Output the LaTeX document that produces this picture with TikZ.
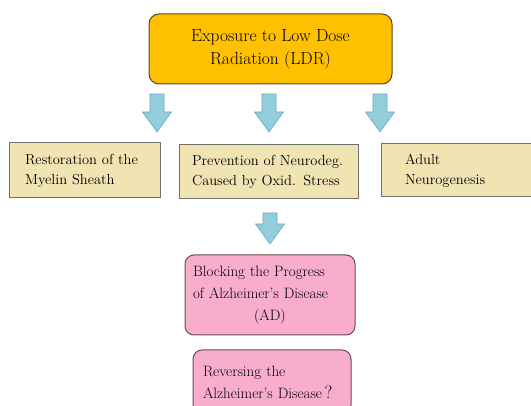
\documentclass[tikz,border=0pt]{standalone}
\usepackage{tikz}
\definecolor{ldrgold}{HTML}{FFC000}
\definecolor{ldrline}{HTML}{5A4420}
\definecolor{wheatfill}{HTML}{F1E4B3}
\definecolor{wheatline}{HTML}{707070}
\definecolor{pinkfill}{HTML}{F8AECB}
\definecolor{pinkline}{HTML}{6A4A55}
\definecolor{arrowblue}{HTML}{92CDDC}
\definecolor{arrowline}{HTML}{6FA8BE}
\tikzset{
  topbox/.style={
    rounded corners=10pt,draw=ldrline,fill=ldrgold,
    line width=1pt,minimum width=243pt,minimum height=70pt,
    align=center,font=\fontsize{17.5}{23}\selectfont
  },
  effectbox/.style={
    draw=wheatline,fill=wheatfill,line width=1pt,
    minimum height=54pt,inner ysep=0pt,align=left,
    font=\fontsize{14.5}{20}\selectfont
  },
  outcomebox/.style={
    rounded corners=9pt,draw=pinkline,fill=pinkfill,
    line width=1pt,align=left,inner ysep=0pt,
    font=\fontsize{15}{22}\selectfont
  },
  arrowshape/.style={draw=arrowline,fill=arrowblue,line width=.6pt,line join=miter},
  pics/blockdown/.style={code={
    \path[arrowshape] (-7,0) -- (7,0) -- (7,#1-20) -- (14.5,#1-20)
      -- (0,#1) -- (-14.5,#1-20) -- (-7,#1-20) -- cycle;
  }}
}
\begin{document}
\begin{tikzpicture}[x=1pt,y=-1pt]
\useasboundingbox (0,0) rectangle (531,406);

\node[topbox] (ldr) at (270.5,49) {Exposure to Low Dose\\Radiation (LDR)};

% block arrows under the LDR box
\pic (arrmyelin) at (157,94) {blockdown=38};
\pic (arroxid) at (269,94) {blockdown=38};
\pic (arrneuro) at (380,94) {blockdown=38};

\node[effectbox,minimum height=55pt,inner xsep=16pt,text width=119pt] (myelin) at (84.5,170.5)
{Restoration of the\\Myelin Sheath};
\node[effectbox,inner xsep=13pt,text width=153pt] (oxid) at (268.5,172)
{Prevention of Neurodeg.\\Caused by Oxid. Stress};
\node[effectbox,minimum height=53pt,inner xsep=24pt,text width=134pt] (neuro) at (472,170.5)
{Adult\\Neurogenesis};

\pic (arrblock) at (270,213) {blockdown=31};

\node[outcomebox,minimum height=80pt,inner xsep=8pt,text width=154pt] (block) at (270,295)
{Blocking the Progress\\of Alzheimer's Disease\\\makebox[\linewidth]{(AD)}};
\node[outcomebox,minimum height=64pt,inner xsep=10pt,text width=138pt] (reverse) at (272,382)
{Reversing the\\Alzheimer's Disease\,{\fontsize{18}{22}\selectfont ?}};
\end{tikzpicture}
\end{document}
